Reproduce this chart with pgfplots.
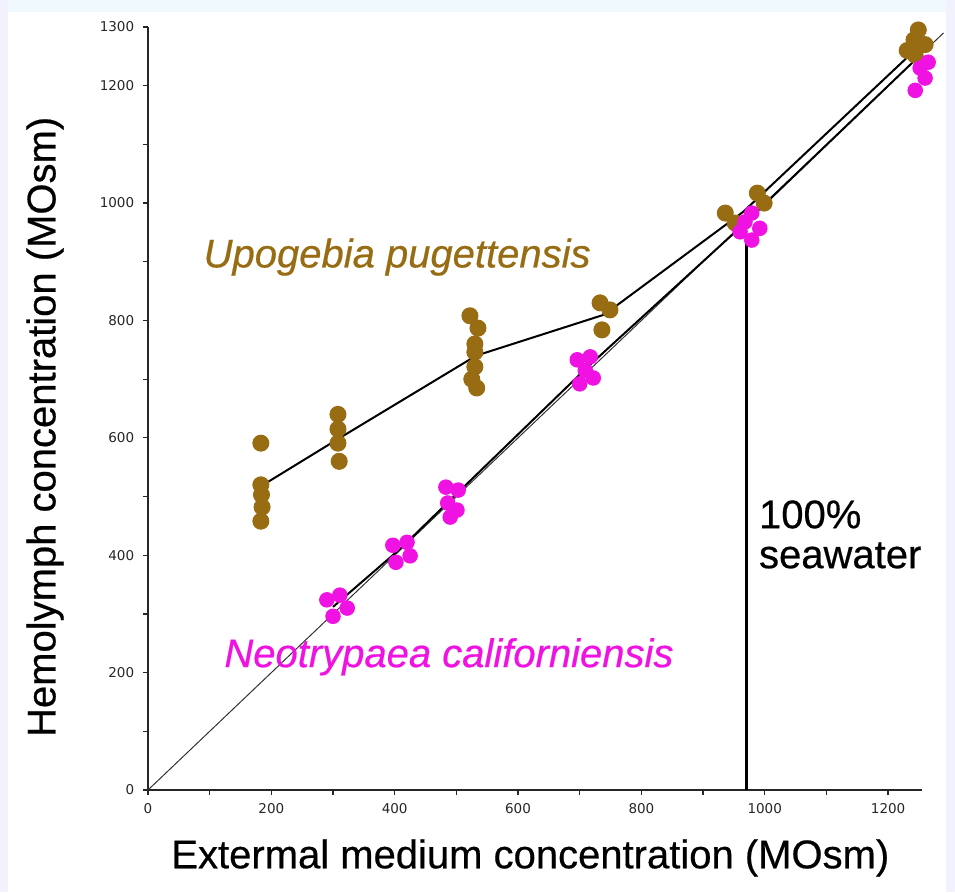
\documentclass[border=0pt]{standalone}
\usepackage{pgfplots}
\pgfplotsset{compat=1.18}
\usepackage{fontspec}
\setmainfont{Liberation Sans}
\newfontfamily\labelfont[FakeBold=0.5]{Liberation Sans}
\newfontfamily\tickfont{DejaVu Sans}

\definecolor{upo}{RGB}{152,108,18}
\definecolor{neo}{RGB}{240,18,226}

\begin{document}
\begin{tikzpicture}
% page = reference picture, 1px = 0.4pt, axis corner at (148,790)
\useasboundingbox (-59.2pt,-40.8pt) rectangle (322.8pt,316pt);
\fill[cyan!6] (-59.2pt,311pt) rectangle (322.8pt,316pt);
\fill[blue!5] (-59.2pt,-40.8pt) rectangle (-56pt,316pt);
\fill[blue!5] (319pt,-40.8pt) rectangle (322.8pt,316pt);

\begin{axis}[
  scale only axis,
  width=309.6pt, height=305.2pt,
  xmin=0, xmax=1255, ymin=0, ymax=1300,
  axis lines=left,
  axis line style={-, line width=0.8pt, black!85},
  clip=false,
  xtick={0,200,...,1200},
  minor xtick={100,300,...,1100},
  ytick={0,200,400,600,800,1000,1200,1300},
  minor ytick={100,300,...,1100},
  tick align=outside,
  major tick length=2pt, minor tick length=2pt,
  tick style={black!85, line width=0.5pt},
  ticklabel style={font=\tickfont\fontsize{5.4}{6}\selectfont, text=black!85},
  /pgf/number format/1000 sep={},
  /pgf/number format/assume math mode=true,
  xlabel={Extermal medium concentration (MOsm)},
  ylabel={Hemolymph concentration (MOsm)},
  label style={font=\labelfont\fontsize{16}{18}\selectfont},
  xlabel style={at={(axis description cs:0.494,-0.089)}, anchor=center},
  ylabel style={at={(axis description cs:-0.133,0.476)}, anchor=center},
]

% iso-osmotic diagonal
\addplot[black!80, line width=0.4pt] coordinates {(0,0) (1290,1290)};

% 100% seawater
\addplot[black, line width=1.2pt] coordinates {(970,0) (970,937)};

% mean lines
\addplot[black, line width=0.8pt] coordinates {
  (190,522) (308,598) (532,740) (740,810) (965,985) (1248,1265)
};
\addplot[black, line width=0.8pt] coordinates {
  (300,312) (410,412) (493,497) (710,718) (968,966) (1250,1250)
};

% Upogebia pugettensis
\addplot[only marks, mark=*, mark size=3.2pt, color=upo] coordinates {
  (183,591) (183,520) (184,503) (185,482) (183,458)
  (308,640) (308,615) (308,591) (310,560)
  (522,808) (535,787) (530,760) (530,746) (530,721) (525,700) (533,685)
  (733,830) (749,818) (736,784)
  (936,983) (952,966) (988,1017) (999,1000)
  (1249,1295) (1242,1278) (1260,1270) (1231,1260) (1244,1252)
};

% Neotrypaea californiensis
\addplot[only marks, mark=*, mark size=2.9pt, color=neo] coordinates {
  (290,324) (311,332) (323,310) (300,296)
  (397,417) (420,422) (425,399) (402,388)
  (483,516) (503,511) (486,489) (501,477) (490,465)
  (696,733) (717,738) (722,702) (700,692) (709,715)
  (979,983) (992,957) (960,951) (979,937) (968,968)
  (1265,1240) (1260,1213) (1244,1192) (1252,1230)
};

\node[font=\labelfont\itshape\fontsize{16}{18}\selectfont, text=upo] at (axis cs:404,908) {Upogebia pugettensis};
\node[font=\labelfont\itshape\fontsize{16}{18}\selectfont, text=neo] at (axis cs:488,227) {Neotrypaea californiensis};
\node[font=\labelfont\fontsize{16}{18}\selectfont, anchor=base west, inner sep=0pt] at (axis cs:990,446) {100\%};
\node[font=\labelfont\fontsize{16}{18}\selectfont, anchor=base west, inner sep=0pt] at (axis cs:990,378) {seawater};
\end{axis}
\end{tikzpicture}
\end{document}
